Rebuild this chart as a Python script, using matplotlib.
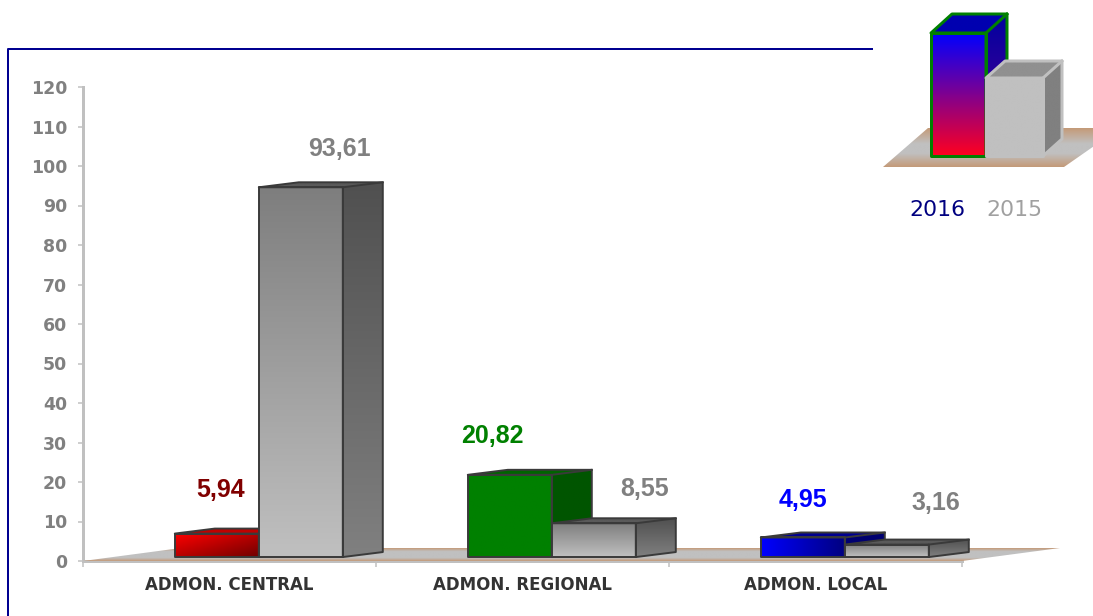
import numpy as np
import matplotlib
matplotlib.use("Agg")
import matplotlib.pyplot as plt
from matplotlib.colors import LinearSegmentedColormap
from matplotlib.lines import Line2D
from matplotlib.patches import Polygon

categories = ["ADMON. CENTRAL", "ADMON. REGIONAL", "ADMON. LOCAL"]
values_2016 = [5.94, 20.82, 4.95]
values_2015 = [93.61, 8.55, 3.16]
labels_2016 = ["5,94", "20,82", "4,95"]
labels_2015 = ["93,61", "8,55", "3,16"]
yticks = list(range(0, 130, 10))
legend_names = ["2016", "2015"]

PX = 72 / 100  # points per pixel at dpi 100
W, H = 1093, 616
TAN = "#c49a78"
GREY = "#c0c0c0"

# (front colours, gradient direction, top colour, side colours) per group of 2016
styles_2016 = [
    (["#ff0000", "#700000"], "diag", "#c00000", ["#800000", "#800000"]),
    (["#008000", "#008000"], "v", "#006400", ["#005500", "#005500"]),
    (["#0000ff", "#000080"], "h", "#000090", ["#000070", "#000070"]),
]
style_2015 = (["#7e7e7e", "#c0c0c0"], "v", "#5a5a5a", ["#505050", "#808080"])
label_colors_2016 = ["#800000", "#008000", "#0000ff"]
# label offsets from the front top centre of each bar, in pixels
offs_2016 = [(4, 44), (-17, 39), (0, 37)]
offs_2015 = [(39, 38), (51, 34), (49, 42)]

z = [2]


def grad(ax, verts, colors, mode="v", stops=None):
    """Polygon filled with a linear gradient; colors run top to bottom or left to right."""
    verts = np.array(verts, dtype=float)
    x0, y0 = verts.min(axis=0)
    x1, y1 = verts.max(axis=0)
    t = np.linspace(0, 1, 128)
    xx, yy = np.meshgrid(t, t)  # row 0 is the top with origin upper
    arr = {"v": yy, "h": xx, "diag": (xx + yy) / 2}[mode]
    seq = list(zip(stops, colors)) if stops else colors
    cmap = LinearSegmentedColormap.from_list("g", seq)
    z[0] += 1
    im = ax.imshow(arr, cmap=cmap, vmin=0, vmax=1, extent=(x0, x1, y0, y1), origin="upper",
                   aspect="auto", interpolation="bilinear", zorder=z[0])
    clip = Polygon(verts, closed=True, transform=ax.transData, fc="none", ec="none")
    # the floor and the last bar stick out past the axes, so clip to the figure only
    im.set_clip_box(ax.figure.bbox)
    im.set_clip_path(clip)


def bar3d(ax, x0, x1, y0, y1, dx, dy, style, edge, lw):
    front, mode, top, side = style
    grad(ax, [(x1, y0), (x1 + dx, y0 + dy), (x1 + dx, y1 + dy), (x1, y1)], side)
    grad(ax, [(x0, y1), (x1, y1), (x1 + dx, y1 + dy), (x0 + dx, y1 + dy)], [top, top])
    grad(ax, [(x0, y0), (x1, y0), (x1, y1), (x0, y1)], front, mode)
    z[0] += 1
    for pts in ([(x0, y0), (x1, y0), (x1, y1), (x0, y1)],
                [(x1, y0), (x1 + dx, y0 + dy), (x1 + dx, y1 + dy), (x0 + dx, y1 + dy), (x0, y1), (x1, y1)]):
        ax.add_patch(Polygon(pts, closed=True, fc="none", ec=edge, lw=lw, zorder=z[0],
                             joinstyle="round", clip_on=False))
    ax.plot([x1, x1 + dx], [y1, y1 + dy], color=edge, lw=lw, zorder=z[0], clip_on=False)


fig = plt.figure(figsize=(W / 100, H / 100), dpi=100)
ax = fig.add_axes([83 / W, (H - 561) / H, (962 - 83) / W, 474 / H])

# floor
floor_dx, floor_dy = 98 / 293, 13 / 3.95
grad(ax, [(0, 0), (3, 0), (3 + floor_dx, floor_dy), (floor_dx, floor_dy)],
     [TAN, GREY, GREY, TAN], "v", stops=[0, 0.25, 0.75, 1])

w = 84 / 293
dx, dy = 40 / 293, 5 / 3.95
base = 1.0
edge = "#3a3a3a"
for i in range(3):
    c = i + 0.6
    bar3d(ax, c - w, c, base, base + values_2016[i], dx, dy, styles_2016[i], edge, 1.4)
for i in range(3):
    c = i + 0.6
    bar3d(ax, c, c + w, base, base + values_2015[i], dx, dy, style_2015, edge, 1.4)

for i in range(3):
    c = i + 0.6
    ax.annotate(labels_2016[i], (c - w / 2, base + values_2016[i]),
                xytext=(offs_2016[i][0] * PX, offs_2016[i][1] * PX), textcoords="offset points",
                ha="center", va="center", fontsize=18, fontweight="bold",
                family="Liberation Sans", color=label_colors_2016[i], zorder=500)
    ax.annotate(labels_2015[i], (c + w / 2, base + values_2015[i]),
                xytext=(offs_2015[i][0] * PX, offs_2015[i][1] * PX), textcoords="offset points",
                ha="center", va="center", fontsize=18, fontweight="bold",
                family="Liberation Sans", color="#808080", zorder=500)

ax.set_xlim(0, 3)
ax.set_ylim(0, 120)
ax.patch.set_alpha(0)
ax.set_yticks(yticks)
ax.set_yticklabels([str(v) for v in yticks], fontsize=12.5, fontweight="bold", color="#808080")
ax.set_xticks([0, 1, 2, 3])
ax.set_xticklabels([])
ax.set_xticks([0.5, 1.5, 2.5], minor=True)
ax.set_xticklabels(categories, minor=True, fontsize=12, fontweight="bold", color="#333333")
ax.tick_params(axis="y", length=5 * PX, width=1.5 * PX, color=GREY, pad=11 * PX)
ax.tick_params(axis="x", which="major", length=6 * PX, width=1.5 * PX, color=GREY)
ax.tick_params(axis="x", which="minor", length=0, pad=15 * PX)
for s in ("top", "right"):
    ax.spines[s].set_visible(False)
for s in ("left", "bottom"):
    ax.spines[s].set_color(GREY)
    ax.spines[s].set_linewidth(3 * PX)

# outer frame, open at the top right and the bottom
fig.add_artist(Line2D([8 / W, 8 / W, 872 / W], [0, (H - 49) / H, (H - 49) / H],
                      color="#000090", lw=2 * PX, transform=fig.transFigure))

# legend glyph, drawn on its own pixel scale
lg = fig.add_axes([880 / W, (H - 175) / H, (W - 880) / W, 175 / H])
lg.axis("off")
grad(lg, [(3, 8), (184, 8), (240, 47), (48, 47)],
     [TAN, GREY, GREY, TAN], "v", stops=[0, 0.4, 0.65, 1])
bar3d(lg, 51, 106, 19, 142, 21, 19,
      (["#0000ff", "#ff0020"], "v", "#0000b0", ["#0000a0", "#600090"]), "#008000", 3 * PX)
bar3d(lg, 106, 163, 19, 97, 19, 17,
      (["#c0c0c0", "#c0c0c0"], "v", "#909090", ["#808080", "#808080"]), "#c0c0c0", 3 * PX)
lg.set_xlim(0, W - 880)
lg.set_ylim(0, 175)
fig.text(937 / W, (H - 210) / H, legend_names[0], color="#000080", fontsize=15.8,
         ha="center", va="center")
fig.text(1014 / W, (H - 210) / H, legend_names[1], color="#a0a0a0", fontsize=15.8,
         ha="center", va="center")

fig.savefig("out.png", dpi=100)
